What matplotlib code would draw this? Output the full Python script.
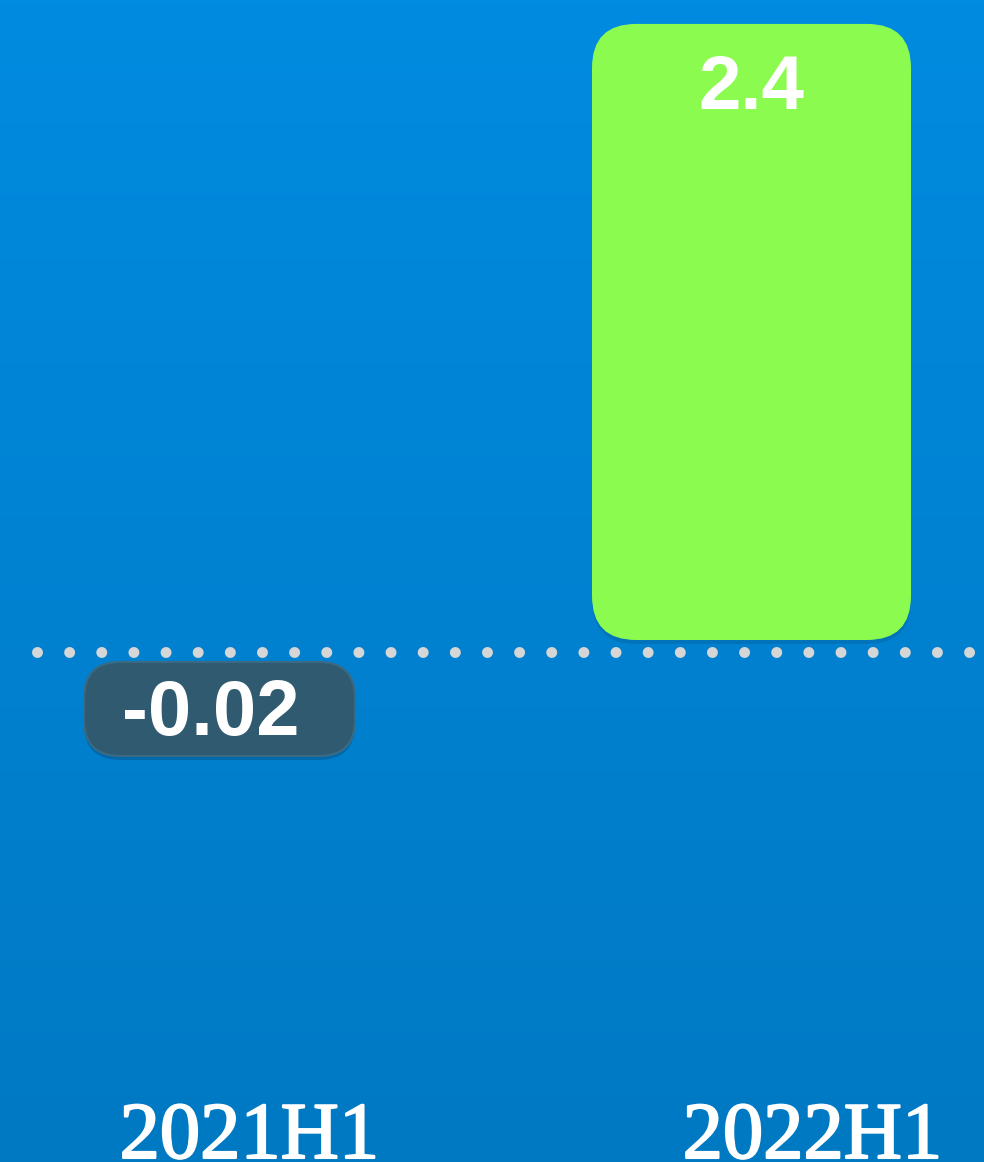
import matplotlib
matplotlib.use("Agg")
import matplotlib.pyplot as plt
import numpy as np
from matplotlib.patches import FancyBboxPatch
from matplotlib.colors import LinearSegmentedColormap
import matplotlib.patheffects as pe

categories = ["2021H1", "2022H1"]
values = [-0.02, 2.4]
value_labels = ["-0.02", "2.4"]

W, H = 984, 1162
DPI = 100
fig = plt.figure(figsize=(W / DPI, H / DPI), dpi=DPI)

# background gradient
bg = fig.add_axes([0, 0, 1, 1], zorder=0)
grad = np.linspace(0, 1, 256).reshape(-1, 1)
cmap = LinearSegmentedColormap.from_list("bg", ["#008BE0", "#0079C3"])
bg.imshow(grad, aspect="auto", cmap=cmap, extent=[0, 1, 0, 1], origin="upper")
bg.set_axis_off()

ax = fig.add_axes([0, 0, 1, 1], zorder=1)
ax.set_facecolor("none")
px_x = 532.0          # pixels per category unit
px_y = 256.7          # pixels per value unit
x0_px = 219.5
zero_px_from_bottom = H - 640
ax.set_xlim(-x0_px / px_x, (W - x0_px) / px_x)
ax.set_ylim(-zero_px_from_bottom / px_y, (H - zero_px_from_bottom) / px_y)
ax.set_axis_off()

aspect = px_x / px_y
bar_w = 319 / px_x
box_w = 271 / px_x
box_h = 94 / px_y

# zero line (dotted), slightly below the bar base
line_y = -12 / px_y
lw_pt = 11 * 72 / DPI
gap = 32.14 * 72 / DPI / lw_pt
ax.plot([(37 - x0_px) / px_x, (980 - x0_px) / px_x], [line_y, line_y],
        color="#D6D6D6", lw=lw_pt, linestyle=(0, (0.001, gap - 0.001)),
        dash_capstyle="round", zorder=2)

for i, (cat, v, lab) in enumerate(zip(categories, values, value_labels)):
    if v > 0:
        r = 44 / px_x
        sh = FancyBboxPatch((i - bar_w / 2, 0 - 4 / px_y), bar_w, v,
                            boxstyle=f"round,pad=0,rounding_size={r}",
                            mutation_aspect=aspect, fc="#004a80", ec="none",
                            alpha=0.25, zorder=3)
        ax.add_patch(sh)
        p = FancyBboxPatch((i - bar_w / 2, 0), bar_w, v,
                           boxstyle=f"round,pad=0,rounding_size={r}",
                           mutation_aspect=aspect, fc="#8BFB4F", ec="none", zorder=4)
        ax.add_patch(p)
        ax.text(i, v - 85 / px_y, lab, ha="center", va="baseline",
                fontsize=55, fontweight="bold", color="white",
                family="Liberation Sans", zorder=5)
    else:
        r = 36 / px_x
        top = -22 / px_y
        xl = (84 - x0_px) / px_x + i
        sh = FancyBboxPatch((xl, top - box_h - 4 / px_y), box_w, box_h,
                            boxstyle=f"round,pad=0,rounding_size={r}",
                            mutation_aspect=aspect, fc="#00406e", ec="none",
                            alpha=0.35, zorder=3)
        ax.add_patch(sh)
        p = FancyBboxPatch((xl, top - box_h), box_w, box_h,
                           boxstyle=f"round,pad=0,rounding_size={r}",
                           mutation_aspect=aspect, fc="#2F5A70", ec="#3A6A84",
                           lw=1.5, zorder=4)
        ax.add_patch(p)
        ax.text(xl + box_w / 2 - 9 / px_x, top - 73 / px_y, lab, ha="center",
                va="baseline", fontsize=56, fontweight="bold", color="white",
                family="Liberation Sans", zorder=5)

# category labels
label_offsets = [30, 61]
for i, cat in enumerate(categories):
    ax.text(i + label_offsets[i] / px_x, (-zero_px_from_bottom + 4) / px_y, cat,
            ha="center", va="baseline", fontsize=58, color="white",
            family="Liberation Serif", zorder=5,
            path_effects=[pe.withStroke(linewidth=1.5, foreground="white")])

fig.savefig("out.png", dpi=DPI)
